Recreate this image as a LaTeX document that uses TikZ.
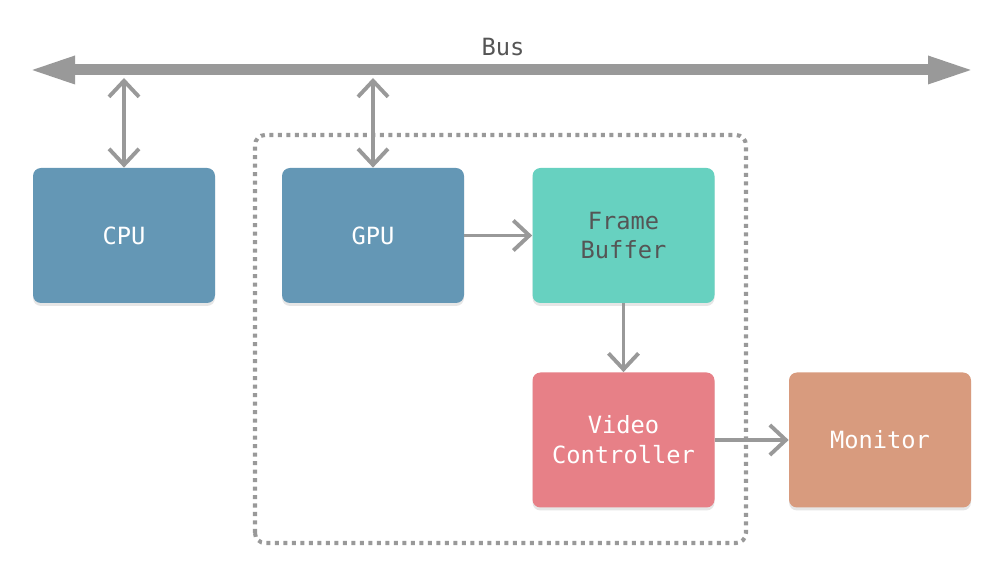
\documentclass[tikz,border=0pt]{standalone}
\usepackage{fontspec}
\setmonofont{DejaVu Sans Mono}
\usetikzlibrary{arrows.meta,shadows}

\definecolor{busgray}{HTML}{999999}
\definecolor{labelgray}{HTML}{555555}
\definecolor{cpublue}{HTML}{6497B5}
\definecolor{buffergreen}{HTML}{67D1C0}
\definecolor{videored}{HTML}{E78087}
\definecolor{monitorbrown}{HTML}{D89B7E}

\tikzset{
  unit/.style={rounded corners=0.16cm, minimum width=3.64cm, minimum height=2.7cm,
    align=center, text=white, font=\ttfamily\fontsize{13.5}{17}\selectfont,
    drop shadow={shadow xshift=0pt, shadow yshift=-0.06cm, opacity=0.2}},
  link/.style={draw=busgray, line width=2.2pt, -{Straight Barb[length=0.32cm, width=0.6cm]}},
  duallink/.style={link, {Straight Barb[length=0.32cm, width=0.6cm]}-{Straight Barb[length=0.32cm, width=0.6cm]}}
}

\begin{document}
\begin{tikzpicture}[scale=1]

    % Canvas size of the reference
    \useasboundingbox (0,0) rectangle (20,11.4);

    % Ends of the bus
    \coordinate (busL) at (0.56,10.0);
    \coordinate (busR) at (19.5,10.0);

    % Draw the bus
    \draw[busgray, line width=0.22cm, {Triangle[length=0.94cm, width=0.5cm]}-{Triangle[length=0.94cm, width=0.5cm]}] (busL) -- (busR);
    \node[text=labelgray, font=\ttfamily\fontsize{13.5}{17}\selectfont] (buslabel) at (10.06,10.46) {Bus};

    % Dotted frame round the graphics card
    \draw[busgray, line width=2.3pt, dash pattern=on 0.08cm off 0.09cm, rounded corners=0.2cm]
        (5.1,0.54) rectangle (14.92,8.7);

    % The units
    \node[unit, fill=cpublue] (cpu) at (2.48,6.69) {CPU};
    \node[unit, fill=cpublue] (gpu) at (7.46,6.69) {GPU};
    \node[unit, fill=buffergreen, text=labelgray] (fb) at (12.47,6.69) {Frame\\Buffer};
    \node[unit, fill=videored] (vc) at (12.47,2.6) {Video\\Controller};
    \node[unit, fill=monitorbrown] (mon) at (17.6,2.6) {Monitor};

    % Links between the bus and the processors
    \coordinate (cpubus) at (cpu.north |- busL);
    \coordinate (gpubus) at (gpu.north |- busL);
    \draw[duallink, shorten <=0.16cm] (cpubus) -- (cpu.north);
    \draw[duallink, shorten <=0.16cm] (gpubus) -- (gpu.north);

    % Data flow through the card
    \draw[link] (gpu.east) -- (fb.west);
    \draw[link] (fb.south) -- (vc.north);
    \draw[link] (vc.east) -- (mon.west);

\end{tikzpicture}
\end{document}
